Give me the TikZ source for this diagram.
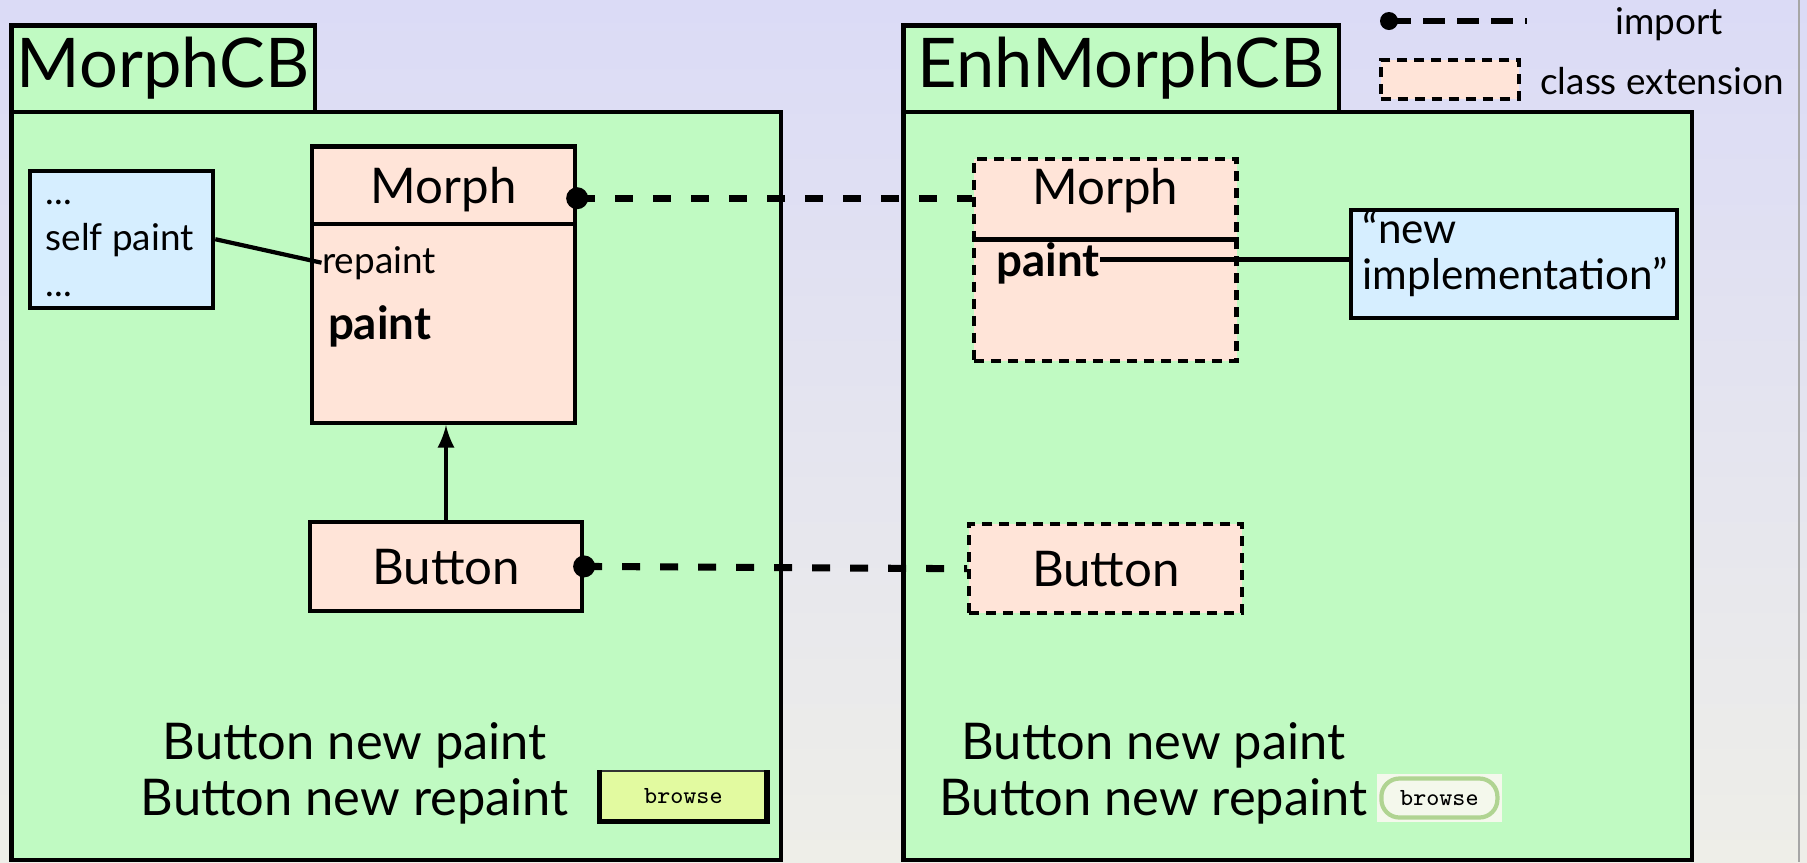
\documentclass[tikz,border=0pt]{standalone}
\usepackage{fontspec}
\setmainfont{Lato}
\usepackage{xcolor}
\definecolor{bgtop}{RGB}{219,219,246}
\definecolor{bgbot}{RGB}{238,238,232}
\definecolor{pkggreen}{RGB}{192,250,194}
\definecolor{classpeach}{RGB}{255,228,216}
\definecolor{noteblue}{RGB}{214,238,255}
\definecolor{browsegreen}{RGB}{226,250,160}
\definecolor{pillwhite}{RGB}{244,248,236}
\definecolor{pillgreen}{RGB}{176,212,146}

\begin{document}
\begin{tikzpicture}[x=1mm,y=-1mm]
  \tikzstyle{pkg}=[rectangle,draw=black,fill=pkggreen,line width=1.2pt,inner sep=0pt]
  \tikzstyle{pkgtitle}=[pkg,font=\fontsize{19.5}{23}\selectfont]
  \tikzstyle{classbox}=[rectangle,draw=black,fill=classpeach,line width=1.2pt,
    inner sep=0pt,text depth=0pt,font=\fontsize{14}{17}\selectfont]
  \tikzstyle{extbox}=[classbox,dash pattern=on 1mm off 0.7mm]
  \tikzstyle{member}=[inner sep=0pt,anchor=west,font=\fontsize{10.5}{13}\selectfont]
  \tikzstyle{memberbold}=[member,text depth=0pt,font=\fontsize{13}{15}\bfseries\selectfont]
  \tikzstyle{note}=[rectangle,draw=black,fill=noteblue,line width=1.2pt,inner sep=0pt]
  \tikzstyle{notetext}=[inner sep=0pt,anchor=west,align=left]
  \tikzstyle{code}=[align=center,inner sep=0pt,font=\fontsize{14.4}{16}\selectfont]
  \tikzstyle{importline}=[line width=2pt,dash pattern=on 1.8mm off 2mm]
  \tikzstyle{browsebtn}=[rectangle,draw=black!80,fill=browsegreen,line width=0.5pt,
    inner sep=0pt,font=\fontsize{7}{8}\ttfamily\selectfont]

  \useasboundingbox (0,0) rectangle (180.7,86.2);
  \shade[top color=bgtop,bottom color=bgbot] (0,0) rectangle (180.7,86.2);
  \draw[gray!70,line width=0.6pt] (179.9,0) -- (179.9,86.2);

  % packages
  \node at (39.64,48.59) [pkg,minimum width=76.98mm,minimum height=74.82mm] (pkgL) {};
  \node at (129.76,48.59) [pkg,minimum width=78.82mm,minimum height=74.82mm] (pkgR) {};
  \node at (16.31,6.86) [pkgtitle,minimum width=30.31mm,minimum height=8.64mm] (titleL) {MorphCB};
  \node at (112.13,6.86) [pkgtitle,minimum width=43.56mm,minimum height=8.64mm] (titleR) {EnhMorphCB};

  % MorphCB classes
  \node at (44.37,28.47) [classbox,minimum width=26.27mm,minimum height=27.65mm] (morphL) {};
  \node at (44.37,18.5) [classbox,minimum width=26.27mm,minimum height=7.72mm] (morphLtitle) {Morph};
  \node at (32.15,26.27) [member] (repaintL) {repaint};
  \node at (32.73,32.3) [memberbold] (paintL) {paint};
  \node at (44.6,56.64) [classbox,minimum width=27.2mm,minimum height=8.88mm] (buttonL) {Button};
  \node at (12.16,23.92) [note,minimum width=18.32mm,minimum height=13.71mm] (noteL) {};
  \node at (4.5,24.84) [notetext,font=\fontsize{10.5}{13}\selectfont] (noteLtext) {...\\self paint\\...};
  \draw[line width=1.2pt] (noteL.east) -- (repaintL.west);
  \draw[line width=1.2pt,-latex] (buttonL.north) -- (buttonL.north |- morphL.south);

  % EnhMorphCB extensions
  \node at (110.52,25.99) [extbox,minimum width=26.27mm,minimum height=20.17mm] (morphR) {};
  \node at (110.52,19.82) [classbox,draw=none,fill=none,minimum width=26.27mm,minimum height=7.84mm,
    text depth=2.4mm] (morphRtitle) {Morph};
  \draw[line width=1.2pt] (morphRtitle.south west) -- (morphRtitle.south east);
  \node at (99.57,25.94) [memberbold] (paintR) {paint};
  \node at (110.58,56.87) [extbox,minimum width=27.31mm,minimum height=8.88mm] (buttonR) {Button};
  \node at (151.37,26.39) [note,minimum width=32.61mm,minimum height=10.84mm] (noteR) {};
  \node at (136.2,25.35) [notetext,font=\fontsize{12}{13.1}\selectfont] (noteRtext) {``new\\implementation''};
  \draw[line width=1.2pt] (paintR.east) -- (paintR.east -| noteR.west);

  % imports
  \draw[importline] (morphRtitle.west -| morphL.east) -- (morphRtitle.west);
  \fill (morphRtitle.west -| morphL.east) circle (1.1);
  \draw[importline] (buttonL.east) -- (buttonR.west);
  \fill (buttonL.east) circle (1.1);

  % usage
  \node at (35.49,77.35) [code] (codeL) {Button new paint\\Button new repaint};
  \node at (68.34,79.58) [browsebtn,minimum width=16.59mm,minimum height=4.95mm] (browseL) {browse};
  \draw[line width=1.6pt] (browseL.north west) -- (browseL.south west) -- (browseL.south east) -- (browseL.north east);
  \node at (115.35,77.35) [code] (codeR) {Button new paint\\Button new repaint};
  \node at (143.94,79.8) [rectangle,fill=pillwhite,inner sep=0pt,minimum width=12.45mm,minimum height=4.73mm] (browseRbg) {};
  \node at (143.94,79.8) [browsebtn,draw=pillgreen,fill=pillwhite,line width=1.2pt,rounded corners=1.8mm,
    minimum width=11.6mm,minimum height=3.9mm] (browseR) {browse};

  % legend
  \coordinate (lgA) at (138.9,2.1);
  \coordinate (lgB) at (152.7,2.1);
  \draw[line width=1.5pt,dash pattern=on 2.2mm off 1.2mm] (lgA) -- (lgB);
  \fill (lgA) circle (0.9);
  \node at (166.9,2.45) [member,anchor=center] (lgimport) {import};
  \node at (144.98,7.95) [extbox,minimum width=13.83mm,minimum height=3.92mm] (lgext) {};
  \node at (153.96,8.07) [member] (lgextlabel) {class extension};
\end{tikzpicture}
\end{document}
